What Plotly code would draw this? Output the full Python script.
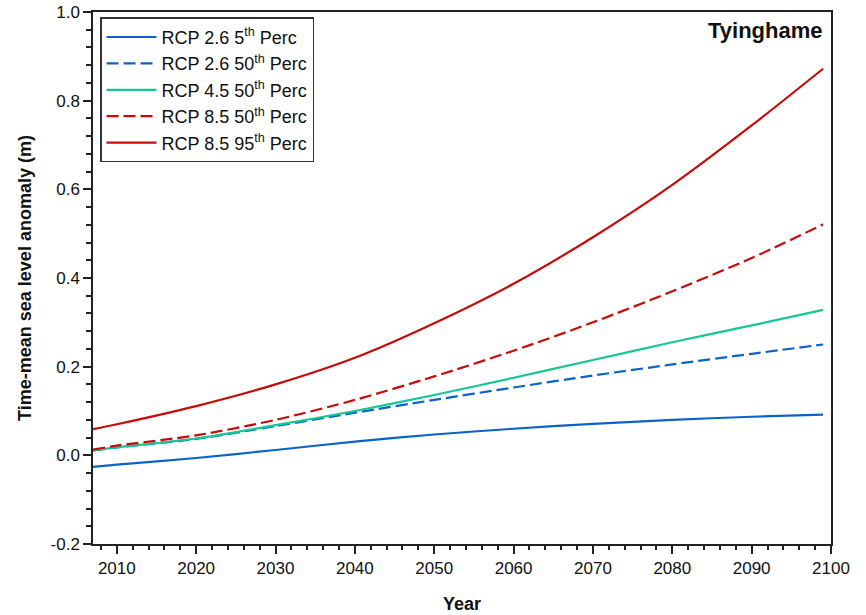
import plotly.graph_objects as go

years = [2007, 2010, 2020, 2030, 2040, 2050, 2060, 2070, 2080, 2090, 2099]
rcp26_p5 = [-0.026, -0.021, -0.006, 0.012, 0.031, 0.047, 0.060, 0.071, 0.080, 0.087, 0.092]
rcp26_p50 = [0.011, 0.018, 0.037, 0.066, 0.096, 0.125, 0.153, 0.180, 0.205, 0.229, 0.250]
rcp45_p50 = [0.011, 0.018, 0.038, 0.068, 0.100, 0.136, 0.175, 0.215, 0.255, 0.293, 0.328]
rcp85_p50 = [0.013, 0.022, 0.045, 0.080, 0.125, 0.178, 0.236, 0.300, 0.370, 0.445, 0.521]
rcp85_p95 = [0.059, 0.070, 0.111, 0.160, 0.220, 0.298, 0.387, 0.492, 0.610, 0.744, 0.872]

series_names = [
    "RCP 2.6 5<sup>th</sup> Perc",
    "RCP 2.6 50<sup>th</sup> Perc",
    "RCP 4.5 50<sup>th</sup> Perc",
    "RCP 8.5 50<sup>th</sup> Perc",
    "RCP 8.5 95<sup>th</sup> Perc",
]
series_values = [rcp26_p5, rcp26_p50, rcp45_p50, rcp85_p50, rcp85_p95]
colors = ["#0a64c8", "#0a64c8", "#14c896", "#c80a0a", "#c80a0a"]
dashes = ["solid", "12px,5px", "solid", "12px,5px", "solid"]

y_tickvals = [-0.2, 0.0, 0.2, 0.4, 0.6, 0.8, 1.0]
y_ticktext = ["-0.2", "0.0", "0.2", "0.4", "0.6", "0.8", "1.0"]
x_tickvals = [2010, 2020, 2030, 2040, 2050, 2060, 2070, 2080, 2090, 2100]

FONT = "Liberation Sans, Arial, sans-serif"

fig = go.Figure()
for name, vals, c, d in zip(series_names, series_values, colors, dashes):
    fig.add_trace(go.Scatter(
        x=years, y=vals, name=name, mode="lines",
        line=dict(color=c, width=2.2, dash=d, shape="spline", smoothing=0.8),
    ))

fig.update_layout(
    width=866, height=615,
    margin=dict(l=93, r=35, t=12, b=71),
    plot_bgcolor="white", paper_bgcolor="white",
    font=dict(family=FONT, size=17, color="#111"),
    showlegend=True,
    legend=dict(
        x=0.0095, y=0.99, xanchor="left", yanchor="top",
        bgcolor="white", bordercolor="#333", borderwidth=1.5,
        font=dict(family=FONT, size=18, color="#111"),
        tracegroupgap=0, itemwidth=50,
    ),
    annotations=[dict(
        text="<b>Tyinghame</b>", xref="paper", yref="paper",
        x=0.992, y=0.965, xanchor="right", yanchor="middle",
        showarrow=False, font=dict(family=FONT, size=22, color="#111"),
    )],
)

fig.update_xaxes(
    range=[2007, 2100], tickvals=x_tickvals,
    ticks="outside", ticklen=8, tickwidth=1.5, tickcolor="#222",
    minor=dict(ticks="outside", dtick=2, tick0=2008, ticklen=4, tickwidth=1.5, tickcolor="#222"),
    showline=True, linecolor="#222", linewidth=1.5, mirror=True,
    showgrid=False, zeroline=False, automargin=False, ticklabeloverflow="allow",
    tickfont=dict(family=FONT, size=17, color="#111"),
    title=dict(text="<b>Year</b>", font=dict(family=FONT, size=18, color="#111"), standoff=20),
)
fig.update_yaxes(
    range=[-0.2, 1.0], tickvals=y_tickvals, ticktext=y_ticktext,
    ticks="outside", ticklen=8, tickwidth=1.5, tickcolor="#222",
    minor=dict(ticks="outside", dtick=0.04, tick0=0, ticklen=5, tickwidth=1.5, tickcolor="#222"),
    showline=True, linecolor="#222", linewidth=1.5, mirror=True,
    showgrid=False, zeroline=False, automargin=False, ticklabeloverflow="allow",
    tickfont=dict(family=FONT, size=17, color="#111"),
    title=dict(text="<b>Time-mean sea level anomaly (m)</b>",
               font=dict(family=FONT, size=18, color="#111"), standoff=14),
)

fig.write_html("out.html", config={"displayModeBar": False},
               post_script="document.body.style.margin='0';")
